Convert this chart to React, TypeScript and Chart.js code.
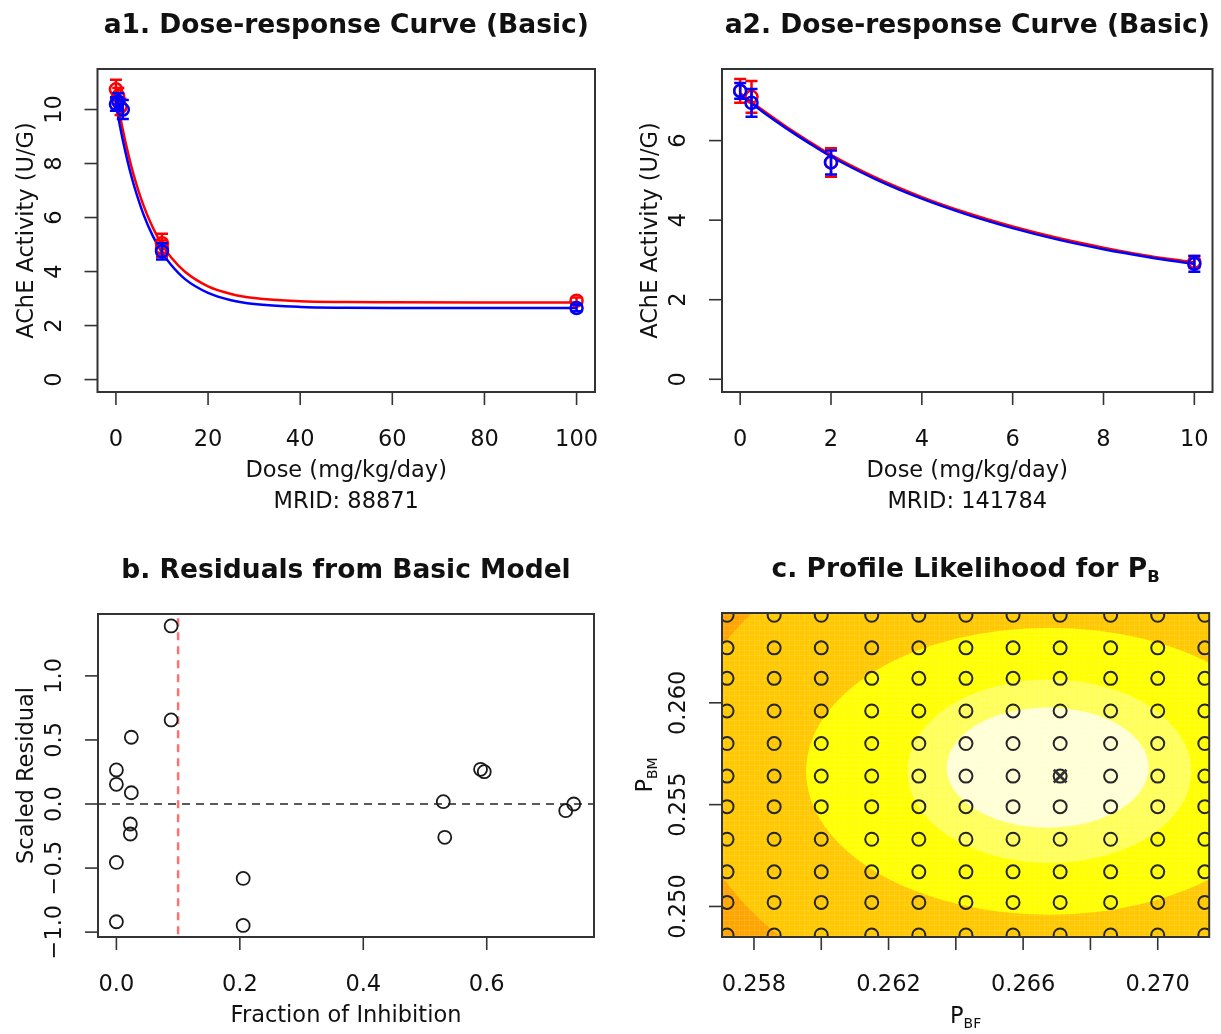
import React, { useEffect, useRef } from 'react';
import { Chart, registerables } from 'chart.js';

Chart.register(...registerables);

const W = 1221;
const H = 1034;
const FONT = '"DejaVu Sans", "Liberation Sans", sans-serif';
const TICK_FONT = 22.5;
const TITLE_FONT = 26.5;
const TICK_LEN = 13;

// ---------------- a1 ----------------
const a1CurveDose = [0, 1, 2, 3, 4, 6, 8, 10, 12, 15, 20, 25, 30, 40, 50, 60, 80, 100];
const a1CurveRed = [10.6, 9.67, 8.85, 8.13, 7.49, 6.44, 5.63, 5.0, 4.52, 3.99, 3.45, 3.17, 3.02, 2.9, 2.87, 2.86, 2.85, 2.85];
const a1CurveBlue = [10.2, 9.28, 8.47, 7.76, 7.14, 6.11, 5.32, 4.71, 4.24, 3.72, 3.21, 2.94, 2.8, 2.69, 2.66, 2.65, 2.65, 2.65];
const a1RedDose = [0, 0.5, 1, 10, 10, 100];
const a1RedMean = [10.75, 10.5, 10.1, 5.05, 4.85, 2.92];
const a1RedErr = [0.35, 0.3, 0.3, 0.35, 0.3, 0.12];
const a1BlueDose = [0, 0.5, 1.5, 10, 100];
const a1BlueMean = [10.2, 10.3, 10.0, 4.75, 2.65];
const a1BlueErr = [0.25, 0.3, 0.35, 0.3, 0.12];
const a1XTicks = [0, 20, 40, 60, 80, 100];
const a1YTicks = [0, 2, 4, 6, 8, 10];

// ---------------- a2 ----------------
const a2CurveDose = [0, 0.5, 1, 1.5, 2, 3, 4, 5, 6, 7, 8, 9, 10];
const a2CurveRed = [7.19, 6.76, 6.36, 5.99, 5.64, 5.06, 4.58, 4.18, 3.84, 3.55, 3.31, 3.1, 2.94];
const a2CurveBlue = [7.15, 6.72, 6.32, 5.95, 5.6, 5.02, 4.54, 4.14, 3.8, 3.51, 3.27, 3.07, 2.9];
const a2RedDose = [0, 0.25, 2, 10];
const a2RedMean = [7.25, 7.1, 5.45, 2.95];
const a2RedErr = [0.3, 0.4, 0.36, 0.15];
const a2BlueDose = [0, 0.25, 2, 10];
const a2BlueMean = [7.25, 6.95, 5.45, 2.9];
const a2BlueErr = [0.2, 0.35, 0.3, 0.2];
const a2XTicks = [0, 2, 4, 6, 8, 10];
const a2YTicks = [0, 2, 4, 6];

// ---------------- b ----------------
const bFraction = [0.0887, 0.0887, 0.0242, 0.0, 0.0, 0.0242, 0.0226, 0.0226, 0.0, 0.0, 0.2054, 0.2054, 0.5296, 0.532, 0.59, 0.596, 0.728, 0.741];
const bResidual = [1.39, 0.656, 0.521, 0.266, 0.154, 0.088, -0.156, -0.234, -0.456, -0.919, -0.581, -0.948, 0.018, -0.26, 0.271, 0.252, -0.052, 0.0];
const bThreshold = 0.1;
const bZero = 0;
const bXTicks = [0, 0.2, 0.4, 0.6];
const bXLabels = ['0.0', '0.2', '0.4', '0.6'];
const bYTicks = [-1, -0.5, 0, 0.5, 1];
const bYLabels = ['\u22121.0', '\u22120.5', '0.0', '0.5', '1.0'];

// ---------------- c ----------------
const cGridBF = [0.2572, 0.2586, 0.26, 0.2615, 0.2629, 0.2643, 0.2657, 0.2671, 0.2686, 0.27, 0.2714];
const cGridBM = [0.2486, 0.2502, 0.2517, 0.2533, 0.2549, 0.2564, 0.258, 0.2596, 0.2612, 0.2627, 0.2643];
const cBestBF = [0.2671];
const cBestBM = [0.2564];
const cBaseColor = '#FFA500';
const cLevelColors = ['#FFC800', '#FFFF00', '#FFFF5A', '#FFFFD5'];
const cLevelCenterBF = [0.26679, 0.26678, 0.26678, 0.26673];
const cLevelCenterBM = [0.25675, 0.25664, 0.25664, 0.25682];
const cLevelHalfBF = [0.01091, 0.00723, 0.00422, 0.003];
const cLevelHalfBM = [0.01254, 0.00705, 0.00451, 0.00295];
const cLevelTilt = [2.5, 0, 0, 0];
const cXTicks = [0.258, 0.26, 0.262, 0.264, 0.266, 0.268, 0.27];
const cXLabels = ['0.258', '', '0.262', '', '0.266', '', '0.270'];
const cYTicks = [0.25, 0.255, 0.26];
const cYLabels = ['0.250', '0.255', '0.260'];

type Seg = { t: string; sub?: boolean };

interface PanelSpec {
  box: { L: number; R: number; T: number; B: number };
  xRange: [number, number];
  yRange: [number, number];
  title: Seg[];
  xTicks: number[];
  xLabels: string[];
  yTicks: number[];
  yLabels: string[];
  xTitle: Seg[][];
  yTitle: Seg[];
  xTitleOffset: number;
  yTitleOffset: number;
  datasets: any[];
  heat?: boolean;
}

function pts(xs: number[], ys: number[]) {
  return xs.map((x, i) => ({ x, y: ys[i] }));
}

function curveDs(xs: number[], ys: number[], color: string) {
  return {
    data: pts(xs, ys),
    showLine: true,
    borderColor: color,
    backgroundColor: color,
    borderWidth: 2.5,
    pointRadius: 0,
    cubicInterpolationMode: 'monotone',
    fill: false,
  };
}

function markerDs(xs: number[], ys: number[], errs: number[], color: string) {
  return {
    data: pts(xs, ys),
    errors: errs,
    showLine: false,
    pointStyle: 'circle',
    pointRadius: 6,
    borderWidth: 2.5,
    borderColor: color,
    backgroundColor: 'rgba(0,0,0,0)',
  };
}

function drawRich(ctx: CanvasRenderingContext2D, segs: Seg[], x: number, y: number, size: number, bold: boolean, rotate: boolean) {
  const w = bold ? 'bold ' : '';
  const mainFont = `${w}${size}px ${FONT}`;
  const subSize = size * 0.62;
  const subFont = `${w}${subSize}px ${FONT}`;
  let total = 0;
  const widths: number[] = [];
  for (const s of segs) {
    ctx.font = s.sub ? subFont : mainFont;
    const m = ctx.measureText(s.t).width;
    widths.push(m);
    total += m;
  }
  ctx.save();
  ctx.translate(x, y);
  if (rotate) ctx.rotate(-Math.PI / 2);
  ctx.textAlign = 'left';
  ctx.textBaseline = 'alphabetic';
  let cx = -total / 2;
  const base = size * 0.3645;
  segs.forEach((s, i) => {
    ctx.font = s.sub ? subFont : mainFont;
    ctx.fillText(s.t, cx, base + (s.sub ? size * 0.2 : 0));
    cx += widths[i];
  });
  ctx.restore();
}

function axesPlugin(spec: PanelSpec) {
  return {
    id: 'rAxes',
    afterDraw(chart: any) {
      const ctx: CanvasRenderingContext2D = chart.ctx;
      const { left, right, top, bottom } = chart.chartArea;
      const xs = chart.scales.x;
      const ys = chart.scales.y;
      ctx.save();
      ctx.strokeStyle = '#333';
      ctx.lineWidth = 2;
      ctx.strokeRect(left, top, right - left, bottom - top);
      ctx.fillStyle = '#111';
      ctx.strokeStyle = '#333';
      ctx.lineWidth = 1.6;
      spec.xTicks.forEach((v, i) => {
        const px = xs.getPixelForValue(v);
        ctx.beginPath();
        ctx.moveTo(px, bottom);
        ctx.lineTo(px, bottom + TICK_LEN);
        ctx.stroke();
        if (spec.xLabels[i]) drawRich(ctx, [{ t: spec.xLabels[i] }], px, bottom + 46, TICK_FONT, false, false);
      });
      spec.yTicks.forEach((v, i) => {
        const py = ys.getPixelForValue(v);
        ctx.beginPath();
        ctx.moveTo(left, py);
        ctx.lineTo(left - TICK_LEN, py);
        ctx.stroke();
        if (spec.yLabels[i]) drawRich(ctx, [{ t: spec.yLabels[i] }], left - 45, py, TICK_FONT, false, true);
      });
      const cx = (left + right) / 2;
      const cy = (top + bottom) / 2;
      drawRich(ctx, spec.title, cx, top - 45.5, TITLE_FONT, true, false);
      spec.xTitle.forEach((line, i) => {
        drawRich(ctx, line, cx, bottom + spec.xTitleOffset + i * 31.5, TICK_FONT, false, false);
      });
      drawRich(ctx, spec.yTitle, left - spec.yTitleOffset, cy, TICK_FONT, false, true);
      ctx.restore();
    },
  };
}

const errorBars = {
  id: 'errorBars',
  afterDatasetDraw(chart: any, args: any) {
    const ds: any = chart.data.datasets[args.index];
    if (!ds.errors) return;
    const ctx: CanvasRenderingContext2D = chart.ctx;
    const xs = chart.scales.x;
    const ys = chart.scales.y;
    ctx.save();
    ctx.strokeStyle = ds.borderColor;
    ctx.lineWidth = 2.5;
    ds.data.forEach((p: any, i: number) => {
      const e = ds.errors[i];
      const px = xs.getPixelForValue(p.x);
      const y1 = ys.getPixelForValue(p.y + e);
      const y2 = ys.getPixelForValue(p.y - e);
      ctx.beginPath();
      ctx.moveTo(px, y1);
      ctx.lineTo(px, y2);
      ctx.moveTo(px - 6, y1);
      ctx.lineTo(px + 6, y1);
      ctx.moveTo(px - 6, y2);
      ctx.lineTo(px + 6, y2);
      ctx.stroke();
    });
    ctx.restore();
  },
};

const heatPlugin = {
  id: 'heat',
  beforeDatasetsDraw(chart: any) {
    const ctx: CanvasRenderingContext2D = chart.ctx;
    const { left, right, top, bottom } = chart.chartArea;
    const xs = chart.scales.x;
    const ys = chart.scales.y;
    ctx.save();
    ctx.beginPath();
    ctx.rect(left, top, right - left, bottom - top);
    ctx.clip();
    ctx.fillStyle = cBaseColor;
    ctx.fillRect(left, top, right - left, bottom - top);
    cLevelColors.forEach((col, i) => {
      const px = xs.getPixelForValue(cLevelCenterBF[i]);
      const py = ys.getPixelForValue(cLevelCenterBM[i]);
      const rx = Math.abs(xs.getPixelForValue(cLevelCenterBF[i] + cLevelHalfBF[i]) - px);
      const ry = Math.abs(ys.getPixelForValue(cLevelCenterBM[i] + cLevelHalfBM[i]) - py);
      ctx.beginPath();
      ctx.ellipse(px, py, rx, ry, (cLevelTilt[i] * Math.PI) / 180, 0, Math.PI * 2);
      ctx.fillStyle = col;
      ctx.fill();
    });
    // faint cell texture of the image raster
    ctx.strokeStyle = 'rgba(255,255,255,0.10)';
    ctx.lineWidth = 1;
    for (let x = left + 2.5; x < right; x += 5) {
      ctx.beginPath();
      ctx.moveTo(x, top);
      ctx.lineTo(x, bottom);
      ctx.stroke();
    }
    for (let y = top + 2.5; y < bottom; y += 5) {
      ctx.beginPath();
      ctx.moveTo(left, y);
      ctx.lineTo(right, y);
      ctx.stroke();
    }
    ctx.restore();
  },
};

const cGridPoints: { x: number; y: number }[] = [];
cGridBM.forEach((bm) => cGridBF.forEach((bf) => cGridPoints.push({ x: bf, y: bm })));

const bXRange: [number, number] = [-0.0298, 0.7738];

const PANELS: PanelSpec[] = [
  {
    box: { L: 97.5, R: 595, T: 69, B: 392 },
    xRange: [-4, 104],
    yRange: [-0.46, 11.5],
    title: [{ t: 'a1. Dose-response Curve (Basic)' }],
    xTicks: a1XTicks,
    xLabels: a1XTicks.map(String),
    yTicks: a1YTicks,
    yLabels: a1YTicks.map(String),
    xTitle: [[{ t: 'Dose (mg/kg/day)' }], [{ t: 'MRID: 88871' }]],
    yTitle: [{ t: 'AChE Activity (U/G)' }],
    xTitleOffset: 76.5,
    yTitleOffset: 73,
    datasets: [
      markerDs(a1BlueDose, a1BlueMean, a1BlueErr, '#0000FF'),
      markerDs(a1RedDose, a1RedMean, a1RedErr, '#FF0000'),
      curveDs(a1CurveDose, a1CurveBlue, '#0000FF'),
      curveDs(a1CurveDose, a1CurveRed, '#FF0000'),
    ],
  },
  {
    box: { L: 722, R: 1219, T: 69, B: 392 },
    xRange: [-0.4, 10.4],
    yRange: [-0.32, 7.8],
    title: [{ t: 'a2. Dose-response Curve (Basic)' }],
    xTicks: a2XTicks,
    xLabels: a2XTicks.map(String),
    yTicks: a2YTicks,
    yLabels: a2YTicks.map(String),
    xTitle: [[{ t: 'Dose (mg/kg/day)' }], [{ t: 'MRID: 141784' }]],
    yTitle: [{ t: 'AChE Activity (U/G)' }],
    xTitleOffset: 76.5,
    yTitleOffset: 73,
    datasets: [
      markerDs(a2BlueDose, a2BlueMean, a2BlueErr, '#0000FF'),
      markerDs(a2RedDose, a2RedMean, a2RedErr, '#FF0000'),
      curveDs(a2CurveDose, a2CurveBlue, '#0000FF'),
      curveDs(a2CurveDose, a2CurveRed, '#FF0000'),
    ],
  },
  {
    box: { L: 98, R: 594, T: 614, B: 937 },
    xRange: bXRange,
    yRange: [-1.038, 1.483],
    title: [{ t: 'b. Residuals from Basic Model' }],
    xTicks: bXTicks,
    xLabels: bXLabels,
    yTicks: bYTicks,
    yLabels: bYLabels,
    xTitle: [[{ t: 'Fraction of Inhibition' }]],
    yTitle: [{ t: 'Scaled Residual' }],
    xTitleOffset: 77,
    yTitleOffset: 73,
    datasets: [
      {
        data: pts(bFraction, bResidual),
        showLine: false,
        pointStyle: 'circle',
        pointRadius: 6.5,
        borderWidth: 1.8,
        borderColor: '#1a1a1a',
        backgroundColor: 'rgba(0,0,0,0)',
      },
      {
        data: pts(bXRange, [bZero, bZero]),
        showLine: true,
        pointRadius: 0,
        borderColor: '#5a5a5a',
        borderWidth: 2,
        borderDash: [8, 6],
      },
      {
        data: pts([bThreshold, bThreshold], [-2, 2]),
        showLine: true,
        pointRadius: 0,
        borderColor: '#FF7070',
        borderWidth: 2.5,
        borderDash: [8, 6],
      },
    ],
  },
  {
    box: { L: 722, R: 1220, T: 613, B: 937 },
    xRange: [0.25705, 0.27153],
    yRange: [0.2485, 0.26441],
    title: [{ t: 'c. Profile Likelihood for P' }, { t: 'B', sub: true }],
    xTicks: cXTicks,
    xLabels: cXLabels,
    yTicks: cYTicks,
    yLabels: cYLabels,
    xTitle: [[{ t: 'P' }, { t: 'BF', sub: true }]],
    yTitle: [{ t: 'P' }, { t: 'BM', sub: true }],
    xTitleOffset: 78,
    yTitleOffset: 78,
    heat: true,
    datasets: [
      {
        data: pts(cBestBF, cBestBM),
        showLine: false,
        pointStyle: 'crossRot',
        pointRadius: 9,
        borderWidth: 2.8,
        borderColor: '#333333',
        backgroundColor: 'rgba(0,0,0,0)',
        clip: 0,
      },
      {
        data: cGridPoints,
        showLine: false,
        pointStyle: 'circle',
        pointRadius: 6.5,
        borderWidth: 2,
        borderColor: '#262626',
        backgroundColor: 'rgba(0,0,0,0)',
        clip: 0,
      },
    ],
  },
];

function buildConfig(spec: PanelSpec): any {
  const plugins: any[] = [];
  if (spec.heat) plugins.push(heatPlugin);
  plugins.push(errorBars, axesPlugin(spec));
  return {
    type: 'scatter',
    data: { datasets: spec.datasets },
    options: {
      responsive: false,
      animation: false,
      devicePixelRatio: 1,
      events: [],
      layout: {
        padding: { left: spec.box.L, top: spec.box.T, right: W - spec.box.R, bottom: H - spec.box.B },
      },
      scales: {
        x: { type: 'linear', min: spec.xRange[0], max: spec.xRange[1], display: false },
        y: { type: 'linear', min: spec.yRange[0], max: spec.yRange[1], display: false },
      },
      plugins: { legend: { display: false }, tooltip: { enabled: false } },
    },
    plugins,
  };
}

export default function App() {
  const r0 = useRef<HTMLCanvasElement>(null);
  const r1 = useRef<HTMLCanvasElement>(null);
  const r2 = useRef<HTMLCanvasElement>(null);
  const r3 = useRef<HTMLCanvasElement>(null);
  const refs = [r0, r1, r2, r3];
  useEffect(() => {
    const charts = PANELS.map((p, i) => new Chart(refs[i].current as HTMLCanvasElement, buildConfig(p)));
    return () => charts.forEach((c) => c.destroy());
  }, []);
  return (
    <div style={{ position: 'absolute', left: 0, top: 0, width: W, height: H, background: '#ffffff' }}>
      {PANELS.map((_, i) => (
        <canvas
          key={i}
          ref={refs[i]}
          width={W}
          height={H}
          style={{ position: 'absolute', left: 0, top: 0, width: W, height: H }}
        />
      ))}
    </div>
  );
}
